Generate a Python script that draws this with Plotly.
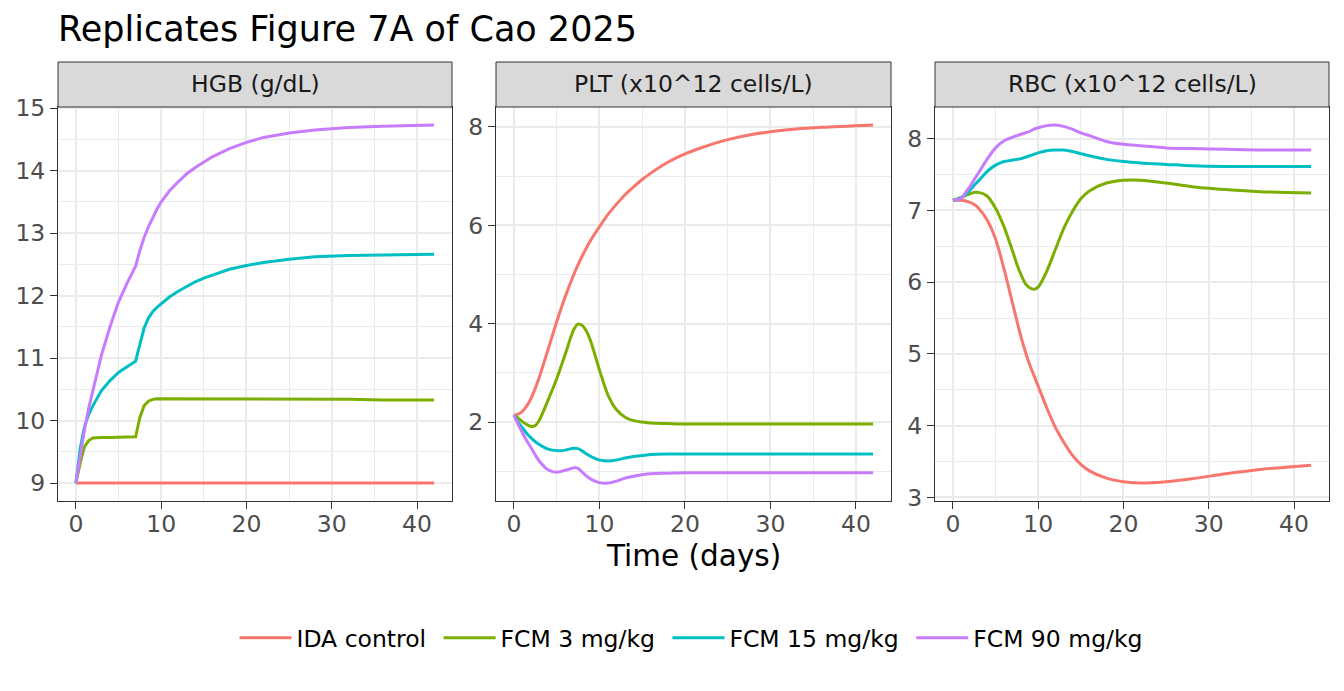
import plotly.graph_objects as go

# time grid (days)
time_days = [0, 0.5, 1, 1.5, 2, 2.5, 3, 4, 5, 6, 7, 7.5, 8, 8.5, 9, 9.5, 10,
             11, 12, 13, 14, 15, 16, 18, 20, 22, 25, 28, 32, 36, 42]

groups = ["IDA control", "FCM 3 mg/kg", "FCM 15 mg/kg", "FCM 90 mg/kg"]
colors = ["#F8766D", "#7CAE00", "#00BFC4", "#C77CFF"]

panels = ["HGB (g/dL)", "PLT (x10^12 cells/L)", "RBC (x10^12 cells/L)"]

hgb_ida = [9.0, 9.0, 9.0, 9.0, 9.0, 9.0, 9.0, 9.0, 9.0, 9.0, 9.0,
           9.0, 9.0, 9.0, 9.0, 9.0, 9.0,
           9.0, 9.0, 9.0, 9.0, 9.0, 9.0,
           9.0, 9.0, 9.0, 9.0, 9.0, 9.0, 9.0, 9.0]
hgb_fcm3 = [9.0, 9.32, 9.58, 9.68, 9.72, 9.73, 9.73, 9.73, 9.73, 9.73, 9.74,
            10.05, 10.24, 10.31, 10.34, 10.35, 10.35,
            10.35, 10.35, 10.35, 10.35, 10.35, 10.35,
            10.35, 10.34, 10.34, 10.34, 10.34, 10.34, 10.33, 10.33]
hgb_fcm15 = [9.0, 9.55, 9.9, 10.1, 10.24, 10.37, 10.48, 10.64, 10.77, 10.86, 10.95,
             11.22, 11.48, 11.64, 11.74, 11.81, 11.87,
             11.98, 12.07, 12.15, 12.22, 12.28, 12.33,
             12.42, 12.48, 12.53, 12.58, 12.62, 12.64, 12.65, 12.66]
hgb_fcm90 = [9.0, 9.45, 9.85, 10.2, 10.5, 10.8, 11.05, 11.5, 11.9, 12.2, 12.47,
             12.72, 12.93, 13.1, 13.25, 13.38, 13.5,
             13.68, 13.82, 13.95, 14.05, 14.14, 14.22,
             14.35, 14.45, 14.53, 14.6, 14.65, 14.69, 14.71, 14.73]

plt_ida = [2.14, 2.16, 2.22, 2.33, 2.48, 2.69, 2.93, 3.48, 4.04, 4.55, 5.0,
           5.2, 5.38, 5.55, 5.7, 5.84, 5.97,
           6.22, 6.43, 6.62, 6.78, 6.93, 7.06,
           7.28, 7.45, 7.58, 7.74, 7.85, 7.94, 7.99, 8.04]
plt_fcm3 = [2.14, 2.08, 2.01, 1.95, 1.91, 1.93, 2.05, 2.45, 2.88, 3.38, 3.88,
            3.99, 3.96, 3.84, 3.63, 3.35, 3.06,
            2.55, 2.25, 2.1, 2.03, 2.0, 1.98,
            1.97, 1.96, 1.96, 1.96, 1.96, 1.96, 1.96, 1.96]
plt_fcm15 = [2.14, 2.0, 1.88, 1.77, 1.68, 1.6, 1.54, 1.45, 1.42, 1.43, 1.47,
             1.46, 1.41, 1.35, 1.3, 1.26, 1.23,
             1.21, 1.23, 1.27, 1.3, 1.32, 1.34,
             1.35, 1.35, 1.35, 1.35, 1.35, 1.35, 1.35, 1.35]
plt_fcm90 = [2.14, 1.95, 1.78, 1.62, 1.48, 1.33, 1.2, 1.03, 0.98, 1.02, 1.07,
             1.06, 0.98, 0.9, 0.84, 0.8, 0.77,
             0.76, 0.8, 0.86, 0.9, 0.93, 0.95,
             0.96, 0.97, 0.97, 0.97, 0.97, 0.97, 0.97, 0.97]

rbc_ida = [7.14, 7.14, 7.14, 7.13, 7.11, 7.08, 7.03, 6.87, 6.6, 6.18, 5.7,
           5.46, 5.23, 5.03, 4.85, 4.7, 4.55,
           4.25, 3.98, 3.77, 3.59, 3.46, 3.37,
           3.27, 3.22, 3.2, 3.22, 3.26, 3.33, 3.39, 3.45]
rbc_fcm3 = [7.14, 7.16, 7.18, 7.21, 7.23, 7.25, 7.25, 7.2, 7.03, 6.77, 6.43,
            6.25, 6.1, 5.98, 5.92, 5.9, 5.93,
            6.15, 6.45, 6.75, 6.98, 7.16, 7.27,
            7.38, 7.42, 7.42, 7.38, 7.33, 7.29, 7.26, 7.24]
rbc_fcm15 = [7.14, 7.15, 7.18, 7.22, 7.28, 7.35, 7.41, 7.54, 7.63, 7.68, 7.7,
             7.71, 7.72, 7.74, 7.76, 7.78, 7.8,
             7.83, 7.84, 7.84, 7.82, 7.79, 7.76,
             7.71, 7.68, 7.66, 7.64, 7.62, 7.61, 7.61, 7.61]
rbc_fcm90 = [7.14, 7.15, 7.17, 7.25, 7.33, 7.43, 7.52, 7.71, 7.87, 7.97, 8.02,
             8.04, 8.06, 8.08, 8.1, 8.13, 8.15,
             8.18, 8.19, 8.17, 8.13, 8.08, 8.04,
             7.96, 7.92, 7.9, 7.87, 7.86, 7.85, 7.84, 7.84]

series = [
    [hgb_ida, hgb_fcm3, hgb_fcm15, hgb_fcm90],
    [plt_ida, plt_fcm3, plt_fcm15, plt_fcm90],
    [rbc_ida, rbc_fcm3, rbc_fcm15, rbc_fcm90],
]
y_major = [1, 2, 1]

# the page body adds 8px around the figure
PAD = 8
W, H = 1344 - 2 * PAD, 691 - 2 * PAD
FONT = "DejaVu Sans"
panel_px = [(58, 452), (496, 891), (935, 1329)]
top_px, bottom_px, strip_top_px = 107, 501, 62


def fx(v):
    return (v - PAD) / W


def fy(v):
    return 1 - (v - PAD) / H


def expand(lo, hi):
    pad = (hi - lo) * 0.05
    return [lo - pad, hi + pad]


fig = go.Figure()
x_range = expand(min(time_days), max(time_days))

for i, (panel, vals) in enumerate(zip(panels, series)):
    ax = "" if i == 0 else str(i + 1)
    for j, (g, c) in enumerate(zip(groups, colors)):
        fig.add_trace(go.Scatter(
            x=time_days, y=vals[j], mode="lines", name=g + "\u00a0",
            line=dict(color=c, width=3, shape="linear" if i == 0 else "spline", smoothing=0.8),
            xaxis="x" + ax, yaxis="y" + ax, showlegend=(i == 0),
        ))
    lo = min(min(v) for v in vals)
    hi = max(max(v) for v in vals)
    x0, x1 = panel_px[i]
    common = dict(
        showline=True, linecolor="#333333", linewidth=1, mirror=True,
        ticks="outside", ticklen=7, tickcolor="#333333", tickwidth=1.2,
        showgrid=True, gridcolor="#EBEBEB", gridwidth=1.6, zeroline=False,
        automargin=False,
        tickfont=dict(family=FONT, size=23.5, color="#4D4D4D"),
    )
    fig.update_layout(**{
        "xaxis" + ax: dict(
            domain=[fx(x0), fx(x1)], range=x_range, anchor="y" + ax,
            tick0=0, dtick=10, ticklabelstandoff=-5,
            minor=dict(dtick=5, showgrid=True, gridcolor="#EBEBEB", gridwidth=0.8),
            **common),
        "yaxis" + ax: dict(
            domain=[fy(bottom_px), fy(top_px)], range=expand(lo, hi), anchor="x" + ax,
            tick0=0, dtick=y_major[i],
            minor=dict(dtick=y_major[i] / 2, showgrid=True, gridcolor="#EBEBEB", gridwidth=0.8),
            **common),
    })
    fig.add_shape(type="rect", xref="paper", yref="paper",
                  x0=fx(x0), x1=fx(x1), y0=fy(top_px), y1=fy(strip_top_px),
                  fillcolor="#D9D9D9", line=dict(color="#333333", width=1))
    fig.add_annotation(text=panel, xref="paper", yref="paper",
                       x=fx((x0 + x1) / 2), y=fy((top_px + strip_top_px) / 2),
                       showarrow=False, xanchor="center", yanchor="middle",
                       font=dict(family=FONT, size=23.5, color="#1A1A1A"))

fig.add_annotation(text="Time (days)", xref="paper", yref="paper",
                   x=fx((panel_px[1][0] + panel_px[1][1]) / 2), y=fy(556),
                   showarrow=False, xanchor="center", yanchor="middle",
                   font=dict(family=FONT, size=29.5, color="black"))

fig.update_layout(
    width=W, height=H,
    margin=dict(l=0, r=0, t=0, b=0),
    paper_bgcolor="white", plot_bgcolor="white",
    title=dict(text="Replicates Figure 7A of Cao 2025", x=fx(58), xanchor="left",
               y=fy(29), yanchor="middle",
               font=dict(family=FONT, size=35, color="black")),
    legend=dict(orientation="h", x=fx(695), xanchor="center",
                y=fy(638), yanchor="middle",
                font=dict(family=FONT, size=23.5, color="black"),
                itemwidth=52),
    showlegend=True,
)

fig.write_html("out.html")
